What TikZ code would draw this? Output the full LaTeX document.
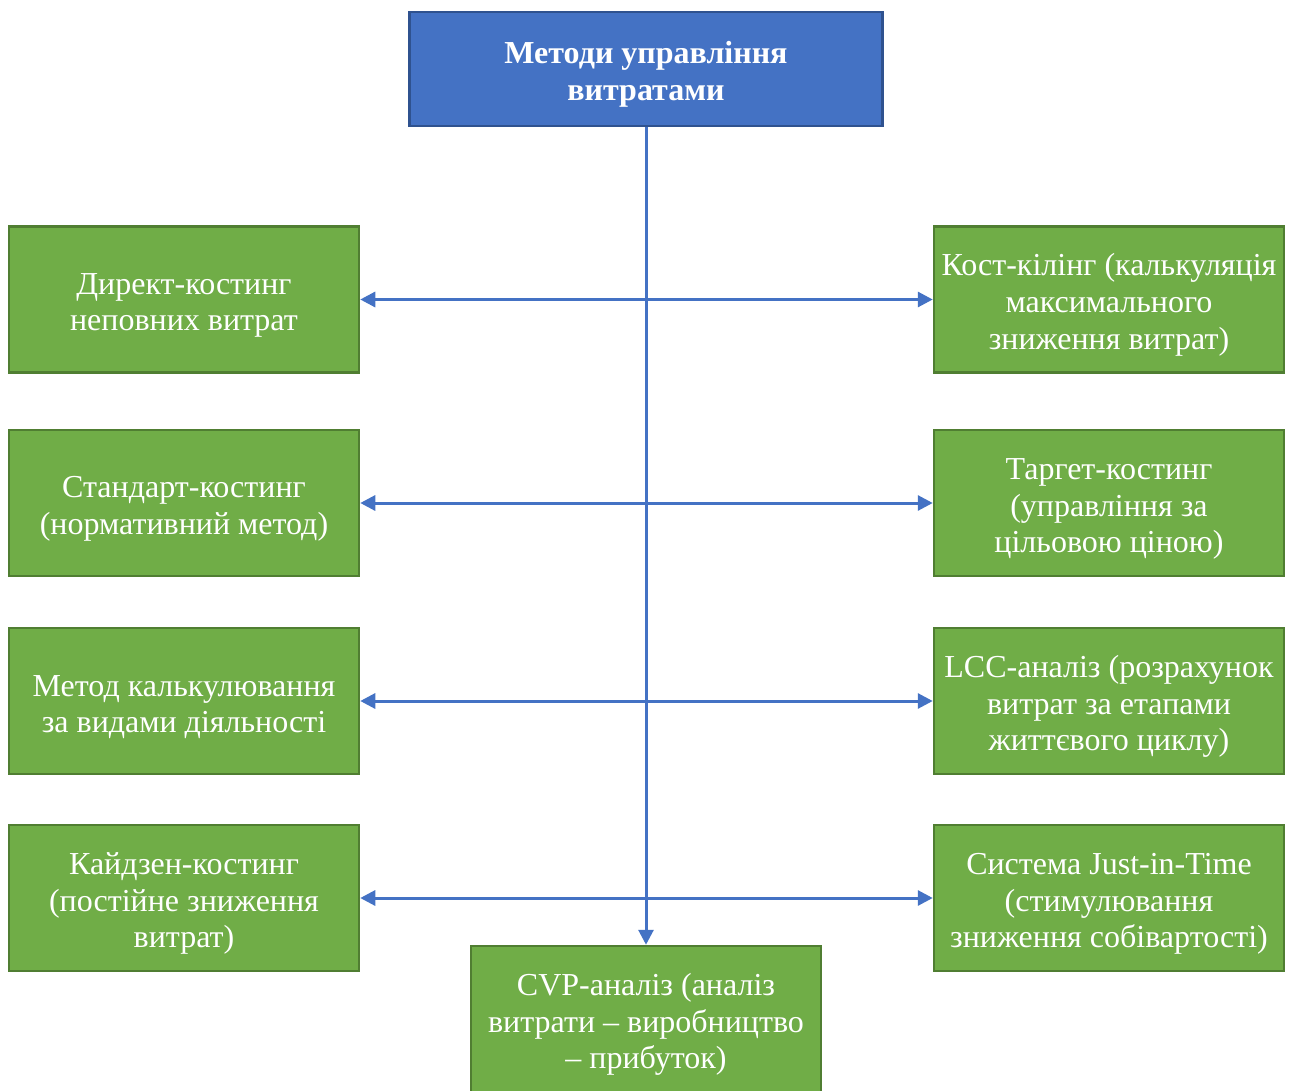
\documentclass[tikz,border=0pt]{standalone}
\usepackage{fontspec}
\setmainfont{Liberation Serif}
\usetikzlibrary{arrows.meta}
\definecolor{boxblue}{HTML}{4472C4}
\definecolor{blueedge}{HTML}{2F528F}
\definecolor{boxgreen}{HTML}{70AD47}
\definecolor{greenedge}{HTML}{507E32}
\definecolor{linkblue}{HTML}{4472C4}
\newcommand{\mytopstrut}{\rule{0pt}{33pt}}
\begin{document}
\begin{tikzpicture}[x=1pt,y=-1pt,
  basebox/.style={inner sep=0pt, align=center, text=white,
    font=\fontsize{32}{36.7}\selectfont},
  greenbox/.style={basebox, draw=greenedge, line width=2.5pt, fill=boxgreen,
    minimum width=350pt, minimum height=146pt},
  titlebox/.style={basebox, draw=blueedge, line width=2.5pt, fill=boxblue,
    minimum width=473pt, minimum height=114pt,
    font=\fontsize{32}{36.7}\selectfont\bfseries},
  conn/.style={draw=linkblue, line width=3pt},
  >={Triangle[length=15pt,width=15pt]}
]
\useasboundingbox (0,0) rectangle (1295,1091);
\fill[white] (0,0) rectangle (1295,1091);

\node[titlebox] (top) at (646,69) {\mytopstrut Методи управління\\витратами};

\node[greenbox] (l1) at (184,299.5) {\mytopstrut Директ-костинг\\неповних витрат};
\node[greenbox] (l2) at (184,503) {\mytopstrut Стандарт-костинг\\(нормативний метод)};
\node[greenbox] (l3) at (184,701) {\mytopstrut Метод калькулювання\\за видами діяльності};
\node[greenbox] (l4) at (184,898) {\mytopstrut Кайдзен-костинг\\(постійне зниження\\витрат)};

\node[greenbox] (r1) at (1109,299.5) {\mytopstrut Кост-кілінг (калькуляція\\максимального\\зниження витрат)};
\node[greenbox] (r2) at (1109,503) {\mytopstrut Таргет-костинг\\(управління за\\цільовою ціною)};
\node[greenbox] (r3) at (1109,701) {\mytopstrut LCC-аналіз (розрахунок\\витрат за етапами\\життєвого циклу)};
\node[greenbox] (r4) at (1109,898) {\mytopstrut Система Just-in-Time\\(стимулювання\\зниження собівартості)};

\node[greenbox] (bot) at (646,1019) {\mytopstrut CVP-аналіз (аналіз\\витрати – виробництво\\– прибуток)};

\draw[conn, ->] (top.south) -- (bot.north);
\draw[conn, <->] (l1.east) -- (r1.west);
\draw[conn, <->] (l2.east) -- (r2.west);
\draw[conn, <->] (l3.east) -- (r3.west);
\draw[conn, <->] (l4.east) -- (r4.west);
\end{tikzpicture}
\end{document}
